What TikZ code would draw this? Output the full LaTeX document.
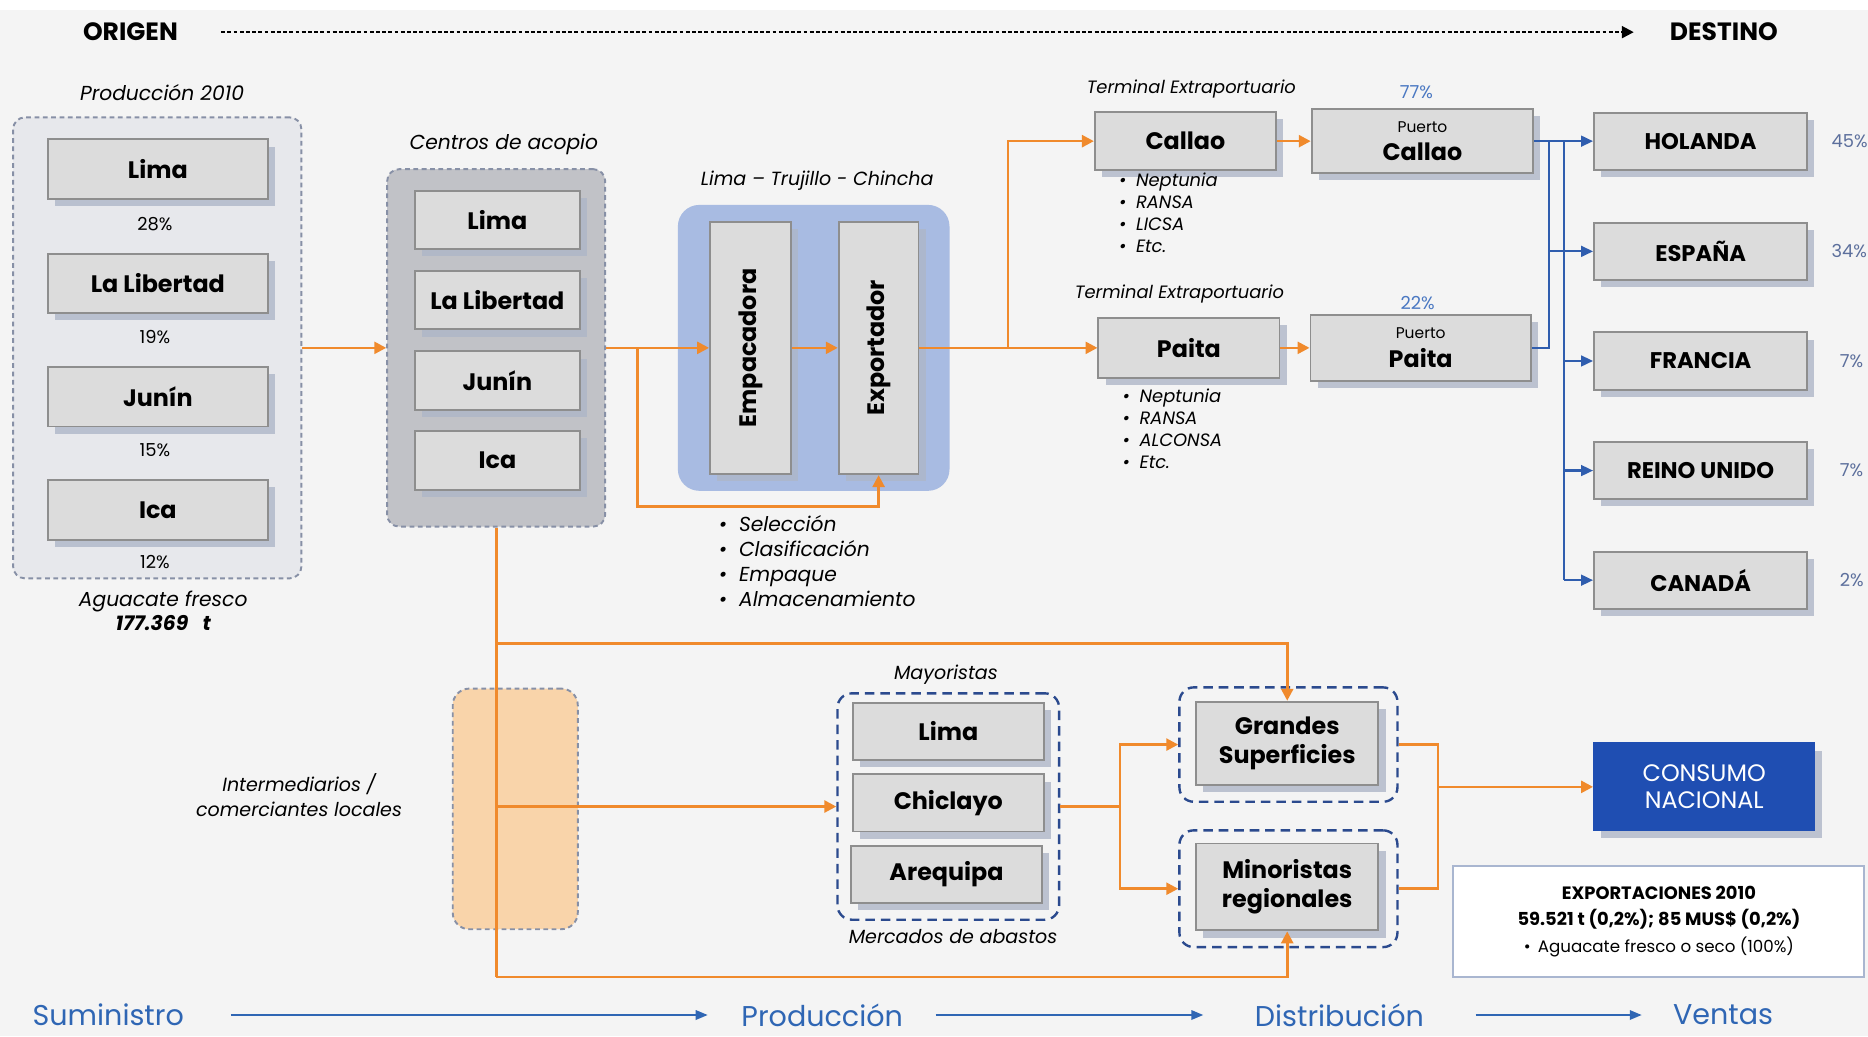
\documentclass[tikz,border=0pt]{standalone}
\usepackage{fontspec}
\setmainfont{Poppins}
\usepackage{graphicx}
\usetikzlibrary{arrows.meta,shadows,calc}

\definecolor{bgcol}{HTML}{F4F4F4}
\definecolor{boxfill}{HTML}{DCDCDC}
\definecolor{boxline}{HTML}{8E8E8E}
\definecolor{shade}{HTML}{AEB6C8}
\definecolor{prodfill}{HTML}{E7E8EC}
\definecolor{acopfill}{HTML}{C1C2C7}
\definecolor{grpline}{HTML}{8790A6}
\definecolor{procblue}{HTML}{A8BBE2}
\definecolor{orangeln}{HTML}{F08A2C}
\definecolor{blueln}{HTML}{2F5DAE}
\definecolor{navy}{HTML}{2B4A8E}
\definecolor{consumo}{HTML}{1F4EB2}
\definecolor{peach}{HTML}{F9D4AA}
\definecolor{stagecol}{HTML}{2F66B4}
\definecolor{pctcol}{HTML}{5C6F9C}
\definecolor{portpct}{HTML}{4A78C2}
\definecolor{exportln}{HTML}{A9B6D0}

\tikzset{
  graybox/.style = {draw=boxline, fill=boxfill, line width=0.8pt, inner sep=0pt,
    align=center, font=\bfseries\fontsize{10}{12}\selectfont,
    drop shadow={shadow xshift=3pt, shadow yshift=-3pt, fill=shade, opacity=0.8}},
  dims/.style 2 args = {minimum width=#1, minimum height=#2},
  prodgroup/.style = {draw=grpline, fill=prodfill, line width=0.8pt,
    dash pattern=on 2pt off 1.5pt, rounded corners=5pt},
  acopgroup/.style = {prodgroup, fill=acopfill},
  procgroup/.style = {fill=procblue, rounded corners=9pt},
  intergroup/.style = {prodgroup, fill=peach, rounded corners=7pt},
  navygroup/.style = {draw=navy, line width=1pt, dash pattern=on 4pt off 2.5pt,
    rounded corners=6pt},
  lbl/.style = {font=\itshape\fontsize{8.5}{10}\selectfont, inner sep=0pt},
  smlbl/.style = {font=\itshape\fontsize{7.5}{9.25}\selectfont, inner sep=0pt, align=left},
  pct/.style = {font=\fontsize{7.5}{9}\selectfont, inner sep=0pt},
  oline/.style = {draw=orangeln, line width=1.1pt},
  oarrow/.style = {oline, -{Triangle[length=5pt, width=5pt]}},
  bline/.style = {draw=blueln, line width=0.9pt},
  barrow/.style = {bline, -{Triangle[length=5pt, width=4.5pt]}},
  toptitle/.style = {font=\bfseries\fontsize{10.5}{12}\selectfont, inner sep=0pt},
  topdash/.style = {line width=0.9pt, dash pattern=on 1.6pt off 1pt,
    -{Triangle[length=5pt, width=5pt]}},
  stage/.style = {text=stagecol, font=\fontsize{12}{14}\selectfont, inner sep=0pt, anchor=west},
  stagearrow/.style = {draw=stagecol, line width=0.7pt, -{Triangle[length=5pt, width=4pt]}}
}

\begin{document}
\begin{tikzpicture}[x=0.5pt, y=-0.5pt]
\useasboundingbox (0,0) rectangle (1568,870);
\fill[white] (0,0) rectangle (1568,870);
\fill[bgcol] (0,8) rectangle (1568,870);

\node[toptitle] (origen) at (109.5,27) {ORIGEN};
\node[toptitle] (destino) at (1447,27) {DESTINO};
\draw[topdash] ([xshift=18pt]origen.east) -- ([xshift=-15pt]destino.west);

\node[prodgroup, dims={121pt}{193.5pt}] (prod) at (132,292) {};
\node[lbl] (prodlbl) at (136,78) {Producción 2010};
\node[graybox, dims={92.5pt}{25pt}] (plima) at (132.5,142) {Lima};
\node[pct] (p28) at (130,188) {28\%};
\node[graybox, dims={92.5pt}{25pt}] (plib) at (132.5,238) {La Libertad};
\node[pct] (p19) at (130,283) {19\%};
\node[graybox, dims={92.5pt}{25pt}] (pjun) at (132.5,333) {Junín};
\node[pct] (p15) at (130,378) {15\%};
\node[graybox, dims={92.5pt}{25pt}] (pica) at (132.5,428) {Ica};
\node[pct] (p12) at (130,472) {12\%};
\node[lbl, align=center] (fresco) at (137,513) {Aguacate fresco\\\bfseries 177.369\hspace{6pt}t};

\node[acopgroup, dims={91.5pt}{150pt}] (acopio) at (416.5,292) {};
\node[lbl] (acoplbl) at (423,121) {Centros de acopio};
\node[graybox, dims={69.5pt}{24.5pt}] (alima) at (417.5,184.5) {Lima};
\node[graybox, dims={69.5pt}{24.5pt}] (alib) at (417.5,252) {La Libertad};
\node[graybox, dims={69.5pt}{24.5pt}] (ajun) at (417.5,319.5) {Junín};
\node[graybox, dims={69.5pt}{24.5pt}] (aica) at (417.5,386.5) {Ica};

\node[procgroup, dims={114pt}{120pt}] (proc) at (683,292) {};
\node[lbl, font=\itshape\fontsize{8}{10}\selectfont] (proclbl) at (686,152) {Lima – Trujillo - Chincha};
\node[graybox, dims={34pt}{106pt}] (empac) at (630,292) {\rotatebox{90}{Empacadora}};
\node[graybox, dims={33.5pt}{106pt}] (export) at (737.5,292) {\rotatebox{90}{Exportador}};
\node[smlbl, font=\itshape\fontsize{8.5}{10.5}\selectfont, anchor=north west] (tareas) at (603,432)
  {\textbullet\hspace{5pt}Selección\\\textbullet\hspace{5pt}Clasificación\\\textbullet\hspace{5pt}Empaque\\\textbullet\hspace{5pt}Almacenamiento};

\node[smlbl] (term1) at (1000,75) {Terminal Extraportuario};
\node[graybox, dims={76pt}{24.5pt}] (callao) at (995,118.5) {Callao};
\node[smlbl, anchor=north west] (tlist1) at (939,145)
  {\textbullet\hspace{4pt}Neptunia\\\textbullet\hspace{4pt}RANSA\\\textbullet\hspace{4pt}LICSA\\\textbullet\hspace{4pt}Etc.};
\node[pct, text=portpct] (c77) at (1189,77) {77\%};
\node[graybox, dims={93pt}{27pt}] (pcallao) at (1194,118.5) {{\mdseries\fontsize{6.5}{7}\selectfont Puerto}\\Callao};

\node[smlbl] (term2) at (990,247) {Terminal Extraportuario};
\node[graybox, dims={76pt}{25pt}] (paita) at (998,292) {Paita};
\node[smlbl, anchor=north west] (tlist2) at (942,326)
  {\textbullet\hspace{4pt}Neptunia\\\textbullet\hspace{4pt}RANSA\\\textbullet\hspace{4pt}ALCONSA\\\textbullet\hspace{4pt}Etc.};
\node[pct, text=portpct] (c22) at (1190,254) {22\%};
\node[graybox, dims={92.5pt}{27.5pt}] (ppaita) at (1192.5,292) {{\mdseries\fontsize{6.5}{7}\selectfont Puerto}\\Paita};

\node[graybox, dims={89.5pt}{24pt}, font=\bfseries\fontsize{9.5}{11}\selectfont] (holanda) at (1427.5,118.5) {HOLANDA};
\node[graybox, dims={89.5pt}{24pt}, font=\bfseries\fontsize{9.5}{11}\selectfont] (espana) at (1427.5,211) {ESPAÑA};
\node[graybox, dims={89.5pt}{24pt}, font=\bfseries\fontsize{9.5}{11}\selectfont] (francia) at (1427.5,303) {FRANCIA};
\node[graybox, dims={89.5pt}{24pt}, font=\bfseries\fontsize{9.5}{11}\selectfont] (reino) at (1427.5,395) {REINO UNIDO};
\node[graybox, dims={89.5pt}{24pt}, font=\bfseries\fontsize{9.5}{11}\selectfont] (canada) at (1427.5,487) {CANADÁ};
\node[pct, text=pctcol, anchor=west] (c45) at (1537,118.5) {45\%};
\node[pct, text=pctcol, anchor=west] (c34) at (1537,211) {34\%};
\node[pct, text=pctcol, anchor=west] (c7a) at (1544,303) {7\%};
\node[pct, text=pctcol, anchor=west] (c7b) at (1544,395) {7\%};
\node[pct, text=pctcol, anchor=west] (c2) at (1544,487) {2\%};

\node[intergroup, dims={52.5pt}{101pt}] (inter) at (432.5,679) {};
\node[lbl, align=center, font=\itshape\fontsize{8}{10.5}\selectfont] (interlbl) at (251,667.5) {Intermediarios /\\comerciantes locales};
\node[navygroup, dims={93pt}{95pt}] (mayor) at (796,677) {};
\node[lbl, font=\itshape\fontsize{8}{10}\selectfont] (mayorlbl) at (794,566) {Mayoristas};
\node[lbl, font=\itshape\fontsize{8}{10}\selectfont] (mercados) at (800,786) {Mercados de abastos};
\node[graybox, dims={80pt}{24pt}] (mlima) at (796,614) {Lima};
\node[graybox, dims={80pt}{24pt}] (mchic) at (796,674) {Chiclayo};
\node[graybox, dims={80pt}{24pt}] (mareq) at (794.5,734) {Arequipa};

\node[navygroup, dims={91.5pt}{48pt}] (grandes) at (1081.5,625) {};
\node[graybox, dims={76.5pt}{35pt}] (grandesin) at (1080.5,624) {Grandes\\Superficies};
\node[navygroup, dims={91.5pt}{49pt}] (minor) at (1081.5,746) {};
\node[graybox, dims={76.5pt}{36.5pt}] (minorin) at (1080.5,744.5) {Minoristas\\regionales};

\node[graybox, fill=consumo, draw=consumo, text=white, font=\fontsize{10}{11.5}\selectfont, dims={92.5pt}{36.5pt}] (consumo) at (1430.5,660.5) {CONSUMO\\NACIONAL};
\node[draw=exportln, fill=white, line width=0.8pt, dims={172.5pt}{46.5pt}, align=center, inner sep=0pt,
  font=\bfseries\fontsize{7.5}{11}\selectfont] (expbox) at (1392.5,773.5)
  {EXPORTACIONES 2010\\59.521 t (0,2\%); 85 MUS\$ (0,2\%)\\{\mdseries\fontsize{7}{8}\selectfont\textbullet\hspace{3pt}Aguacate fresco o seco (100\%)}};

\node[stage] (sumi) at (27,852) {Suministro};
\node[stage] (prodn) at (622,852) {Producción};
\node[stage] (distr) at (1053,852) {Distribución};
\node[stage] (ventas) at (1404,852) {Ventas};
\draw[stagearrow] ([xshift=19.5pt]sumi.east) -- ([xshift=-14pt]prodn.west);
\draw[stagearrow] ([xshift=13.5pt]prodn.east) -- ([xshift=-21.5pt]distr.west);
\draw[stagearrow] ([xshift=21.5pt]distr.east) -- ([xshift=-13pt]ventas.west);

\draw[oarrow] (prod) -- (acopio);
\draw[oarrow] (acopio) -- (empac);
\coordinate (sel) at (535,292);
\coordinate (selturn) at (535,425);
\draw[oarrow] (sel) -- (selturn) -| (export.south);
\draw[oarrow] (empac) -- (export);
\coordinate (efork) at (846,292);
\draw[oline] (export) -- (efork);
\draw[oarrow] (efork) |- (callao);
\draw[oarrow] (efork) -- (paita);
\draw[oarrow] (callao) -- (pcallao);
\draw[oarrow] (paita) -- (ppaita);

\coordinate (bj1) at (1300,118.5);
\coordinate (bj2) at (1313,118.5);
\draw[barrow] (pcallao) -- (holanda);
\draw[bline] (ppaita.east) -| (bj1);
\draw[barrow] (bj1 |- espana) -- (espana);
\draw[bline] (bj2) -- (bj2 |- canada);
\draw[barrow] (bj2 |- francia) -- (francia);
\draw[barrow] (bj2 |- reino) -- (reino);
\draw[barrow] (bj2 |- canada) -- (canada);

\coordinate (ctop) at (416.5,540);
\coordinate (cbot) at (416.5,820);
\draw[oline] (acopio.south) -- (cbot);
\draw[oarrow] (ctop) -| (grandesin.north);
\draw[oarrow] (cbot) -| (minorin.south);
\draw[oarrow] (acopio.south |- mayor.west) -- (mayor.west);
\coordinate (mfork) at (940,677);
\draw[oline] (mayor) -- (mfork);
\draw[oarrow] (mfork) |- (grandes);
\draw[oarrow] (mfork) |- (minor);
\coordinate (cfork) at (1207,660.5);
\draw[oline] (grandes.east) -| (cfork);
\draw[oline] (minor.east) -| (cfork);
\draw[oarrow] (cfork) -- (consumo);
\end{tikzpicture}
\end{document}
